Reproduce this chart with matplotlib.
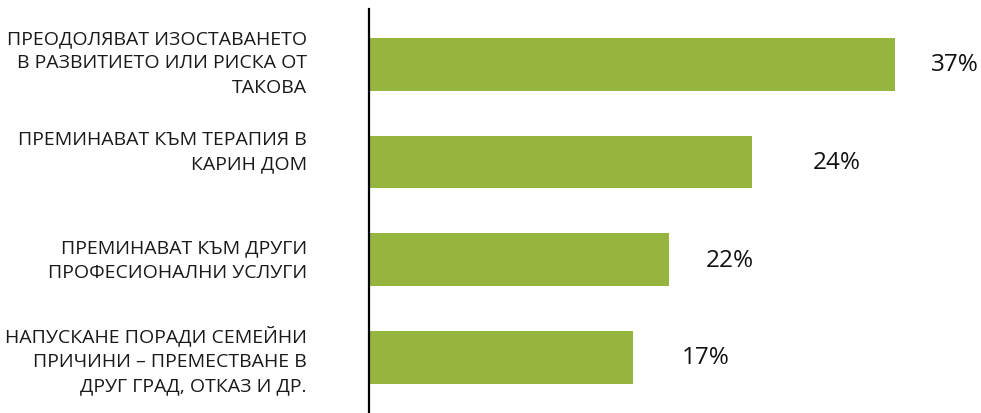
import matplotlib.pyplot as plt
import matplotlib.transforms as mtransforms

# data
categories = [
    'ПРЕОДОЛЯВАТ ИЗОСТАВАНЕТО\nВ РАЗВИТИЕТО ИЛИ РИСКА ОТ\nТАКОВА',
    'ПРЕМИНАВАТ КЪМ ТЕРАПИЯ В\nКАРИН ДОМ',
    'ПРЕМИНАВАТ КЪМ ДРУГИ\nПРОФЕСИОНАЛНИ УСЛУГИ',
    'НАПУСКАНЕ ПОРАДИ СЕМЕЙНИ\nПРИЧИНИ – ПРЕМЕСТВАНЕ В\nДРУГ ГРАД, ОТКАЗ И ДР.',
]
bar_lengths = [37, 26.9, 21.1, 18.5]   # bar sizes as drawn
value_labels = ['37%', '24%', '22%', '17%']
label_x = [39.7, 31.3, 23.8, 22.1]      # where the % labels sit

green = '#95b53e'
plt.rcParams['font.family'] = ['Open Sans', 'DejaVu Sans']

fig = plt.figure(figsize=(9.81, 4.14), dpi=100)
ax = fig.add_axes([369 / 981, 0, 612 / 981, 404 / 414])

pos = list(range(len(categories)))
ax.barh(pos, bar_lengths, height=0.54, color=green, left=0.1)
ax.set_xlim(0, 43.2)
ax.set_ylim(3.57, -0.566)

for i, txt in enumerate(value_labels):
    ax.text(label_x[i], pos[i], txt, ha='left', va='center', fontsize=17.5, color='#111111')

# category labels sit left of the axis line
trans = mtransforms.blended_transform_factory(fig.transFigure, ax.transData)
offsets = [-0.02, -0.11, 0.0, 0.02]
for i, cat in enumerate(categories):
    ax.text(307 / 981, pos[i] + offsets[i], cat, transform=trans, ha='right', va='center',
            fontsize=14, color='#1a1a1a', linespacing=1.47, multialignment='right')

for s in ['top', 'right', 'bottom']:
    ax.spines[s].set_visible(False)
ax.spines['left'].set_linewidth(1.6)
ax.spines['left'].set_color('black')
ax.set_xticks([])
ax.set_yticks([])

fig.savefig('out.png', dpi=100)
